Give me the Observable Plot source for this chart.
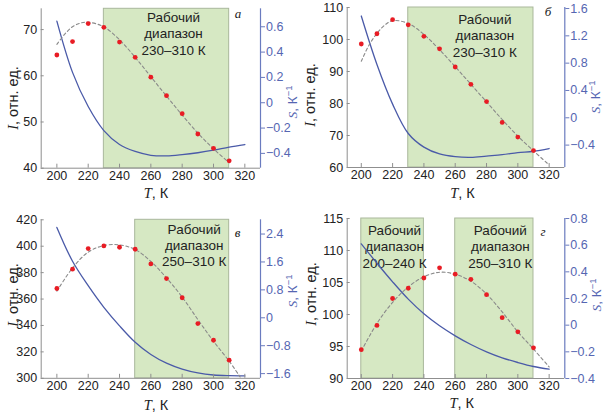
<!DOCTYPE html>
<html><head><meta charset="utf-8">
<script src="https://cdn.jsdelivr.net/npm/d3@7"></script>
<script src="https://cdn.jsdelivr.net/npm/@observablehq/plot@0.6"></script>
<style>
body{margin:0;background:#fff;}
#wrap{position:relative;width:605px;height:412px;overflow:hidden;font-family:"Liberation Sans",Arial,sans-serif;}
.panel{position:absolute;}
.panel svg{position:absolute;left:0;top:0;overflow:visible;}
.ttl{position:absolute;font-size:14.5px;color:#222;white-space:nowrap;line-height:1;}
.it{font-family:"Liberation Serif","DejaVu Serif",serif;font-style:italic;}
.rot{transform:translate(-50%,-50%) rotate(-90deg);}
.ctr{transform:translate(-50%,-50%);}
.blue{color:#5566b2;font-size:13.5px;}
sup{font-size:9.5px;vertical-align:5px;line-height:0;}
</style></head><body><div id="wrap"></div>
<script>
// ---------- data ----------
const T = [200, 210, 220, 230, 240, 250, 260, 270, 280, 290, 300, 310];
const curveT = [200, 210, 220, 230, 240, 250, 260, 270, 280, 290, 300, 310, 320];
const xTicks = [200, 220, 240, 260, 280, 300, 320];

// panel а
const aI = [64.5, 67.4, 71.3, 70.5, 67.3, 64.0, 59.7, 55.7, 51.8, 47.4, 44.3, 41.6];
const aFitT = [200, 205, 210, 215, 220, 230, 240, 250, 260, 270, 280, 290, 300, 310];
const aFit = [66.8, 69.0, 70.6, 71.4, 71.6, 70.6, 67.8, 64.0, 59.8, 55.6, 51.5, 47.6, 44.2, 41.2];
const aS = [0.645, 0.24, -0.03, -0.22, -0.33, -0.385, -0.415, -0.42, -0.41, -0.395, -0.375, -0.35, -0.33];
const aRanges = [[230, 310]];
const aRangeLabels = ["230–310 К"];
const aITicks = [40, 50, 60, 70];
const aSTicks = [-0.4, -0.2, 0, 0.2, 0.4, 0.6];

// panel б
const bI = [98.6, 101.8, 106.2, 104.6, 101.0, 97.1, 91.4, 86.0, 80.6, 74.1, 69.5, 65.3];
const bFitT = [200, 205, 210, 215, 220, 230, 240, 250, 260, 270, 280, 290, 300, 310, 320];
const bFit = [93.2, 98.3, 101.9, 104.5, 105.9, 105.0, 101.6, 96.8, 91.5, 86.0, 80.5, 75.0, 69.8, 65.2, 60.8];
const bS = [1.49, 0.78, 0.2, -0.23, -0.43, -0.53, -0.57, -0.58, -0.56, -0.54, -0.51, -0.49, -0.45];
const bRanges = [[230, 310]];
const bRangeLabels = ["230–310 К"];
const bITicks = [60, 70, 80, 90, 100, 110];
const bSTicks = [-0.4, 0, 0.4, 0.8, 1.2, 1.6];

// panel в
const cI = [368.0, 382.6, 398.2, 400.2, 399.2, 397.7, 386.6, 375.5, 361.0, 341.4, 328.8, 313.7];
const cFitT = [200, 210, 220, 230, 240, 250, 260, 270, 280, 290, 300, 310, 317];
const cFit = [366, 383.5, 395.5, 400.5, 401, 397.5, 388.5, 376, 361.5, 344.5, 328, 313, 301];
const cS = [2.59, 1.62, 0.92, 0.30, -0.23, -0.70, -1.05, -1.30, -1.47, -1.58, -1.64, -1.66, -1.665];
const cRanges = [[250, 310]];
const cRangeLabels = ["250–310 К"];
const cITicks = [300, 320, 340, 360, 380, 400, 420];
const cSTicks = [-1.6, -0.8, 0, 0.8, 1.6, 2.4];

// panel г
const dI = [94.5, 98.3, 102.5, 104.1, 105.7, 107.3, 106.3, 105.5, 103.1, 99.5, 97.3, 94.8];
const dFitT = [200, 210, 220, 230, 240, 250, 260, 270, 280, 290, 300, 310, 320];
const dFit = [94.3, 98.6, 101.9, 104.3, 105.9, 106.6, 106.3, 105.2, 103.2, 100.4, 97.3, 94.6, 91.8];
const dS = [0.61, 0.465, 0.325, 0.195, 0.085, -0.005, -0.08, -0.145, -0.20, -0.245, -0.28, -0.31, -0.33];
const dRanges = [[200, 240], [260, 310]];
const dRangeLabels = ["200–240 К", "250–310 К"];
const dITicks = [90, 95, 100, 105, 110, 115];
const dSTicks = [-0.4, -0.2, 0, 0.2, 0.4, 0.6, 0.8];

// ---------- styles ----------
const BLUE_LINE = "#4a5aa8", BLUE_AX = "#6a7bbf", BLUE_TXT = "#5566b2";
const GRAY_AX = "#8f8f8f", RED = "#e81c24", GREEN = "#d6e8c3", GREEN_EDGE = "#a9b79b";
const fmtS = v => { const r = Math.round(v * 10) / 10; return r === 0 ? "0" : d3.format(".1f")(r); };

function panel(cfg) {
  const wrap = document.getElementById("wrap");
  const div = document.createElement("div");
  div.className = "panel";
  Object.assign(div.style, {left: cfg.left + "px", top: cfg.top + "px", width: cfg.width + "px", height: cfg.height + "px"});
  const s2i = d3.scaleLinear().domain(cfg.sDom).range(cfg.iDom);
  const pts = T.map((t, i) => ({T: t, I: cfg.I[i]}));
  const fit = cfg.fitT.map((t, i) => ({T: t, I: cfg.fit[i]}));
  const sens = curveT.map((t, i) => ({T: t, S: cfg.S[i]}));
  const ranges = cfg.ranges.map(([lo, hi], i) => ({lo, hi, label: cfg.labels[i], dx: cfg.textDx[i]}));
  const svg = Plot.plot({
    width: cfg.width, height: cfg.height,
    marginLeft: cfg.m[0], marginRight: cfg.m[1], marginTop: cfg.m[2], marginBottom: cfg.m[3],
    x: {domain: cfg.xDom}, y: {domain: cfg.iDom},
    style: {fontFamily: "Liberation Sans, Arial, sans-serif", fontSize: "12.5px", color: "#222", background: "transparent", overflow: "visible"},
    marks: [
      Plot.rect(ranges, {x1: "lo", x2: "hi", fill: GREEN, stroke: GREEN_EDGE, strokeWidth: 1}),
      ...ranges.map(r => Plot.text([r], {
        x: d => (d.lo + d.hi) / 2, text: d => `Рабочий\nдиапазон\n${d.label}`,
        frameAnchor: "top", lineAnchor: "top", dy: cfg.textDy, dx: r.dx,
        fontSize: 13.5, lineHeight: 1.22, fill: "#222"
      })),
      Plot.text([cfg.letter], {frameAnchor: "top-right", dx: cfg.letterD[0], dy: cfg.letterD[1], lineAnchor: "middle",
        fontFamily: "Liberation Serif, serif", fontStyle: "italic", fontSize: 13, fill: "#222"}),
      Plot.line(sens, {x: "T", y: d => s2i(d.S), stroke: BLUE_LINE, strokeWidth: 1.3, curve: "catmull-rom"}),
      Plot.line(fit, {x: "T", y: "I", stroke: "#8a8a8a", strokeWidth: 1.1, strokeDasharray: "3,2.6", curve: "catmull-rom"}),
      Plot.dot(pts, {x: "T", y: "I", r: 2.4, fill: RED}),
      Plot.ruleX([cfg.xDom[0]], {stroke: GRAY_AX, strokeWidth: 1}),
      Plot.ruleY([cfg.iDom[0]], {stroke: GRAY_AX, strokeWidth: 1}),
      Plot.ruleX([cfg.xDom[1]], {stroke: BLUE_AX, strokeWidth: 1.2}),
      Plot.axisX(xTicks, {tickSize: -4, tickPadding: 7, stroke: GRAY_AX, fill: "#222", fontSize: 12.5, label: null}),
      Plot.axisY(cfg.iTicks, {anchor: "left", tickSize: -3, tickPadding: 7, stroke: GRAY_AX, fill: "#222", fontSize: 12.5, label: null}),
      Plot.axisY(cfg.sTicks.map(s => s2i(s)), {anchor: "right", tickSize: 4, tickPadding: 1.5, stroke: BLUE_AX, fill: BLUE_TXT,
        fontSize: 12.5, label: null, tickFormat: v => fmtS(s2i.invert(v))})
    ]
  });
  div.appendChild(svg);
  const add = (html, cls, pos) => {
    const e = document.createElement("div");
    e.className = "ttl " + cls;
    e.innerHTML = html;
    e.style.left = pos[0] + "px"; e.style.top = pos[1] + "px";
    div.appendChild(e);
  };
  add('<span class="it">T</span>, К', "ctr", cfg.xT);
  add('<span class="it">I</span>, отн. ед.', "rot", cfg.yT);
  add('<span class="it">S</span>, К<sup>−1</sup>', "rot blue", cfg.sT);
  wrap.appendChild(div);
}

panel({left: 0, top: 0, width: 302, height: 206, m: [40.7, 42, 8.3, 38.3],
  xDom: [190, 330], iDom: [40, 74.5], sDom: [-0.517, 0.742],
  I: aI, fitT: aFitT, fit: aFit, S: aS, ranges: aRanges, labels: aRangeLabels, iTicks: aITicks, sTicks: aSTicks,
  textDx: [7], textDy: 1.5, letter: "а", letterD: [-19.3, 4.7],
  xT: [156, 193], yT: [12.5, 98], sT: [293, 102]});

panel({left: 300, top: 0, width: 305, height: 206, m: [46.7, 40.7, 7, 39],
  xDom: [191, 330], iDom: [60, 110], sDom: [-0.728, 1.615],
  I: bI, fitT: bFitT, fit: bFit, S: bS, ranges: bRanges, labels: bRangeLabels, iTicks: bITicks, sTicks: bSTicks,
  textDx: [14], textDy: 4.5, letter: "б", letterD: [-13.6, 4.7],
  xT: [162.5, 193], yT: [10, 95], sT: [296, 97]});

panel({left: 0, top: 206, width: 302, height: 206, m: [40.7, 42, 13.3, 34.2],
  xDom: [190, 330], iDom: [300, 420], sDom: [-1.734, 2.808],
  I: cI, fitT: cFitT, fit: cFit, S: cS, ranges: cRanges, labels: cRangeLabels, iTicks: cITicks, sTicks: cSTicks,
  textDx: [12], textDy: 2, letter: "в", letterD: [-20, 12.7],
  xT: [156, 199], yT: [12.5, 89], sT: [293, 85]});

panel({left: 300, top: 206, width: 305, height: 206, m: [46.7, 40.7, 12, 34],
  xDom: [191, 330], iDom: [90, 115], sDom: [-0.4, 0.8],
  I: dI, fitT: dFitT, fit: dFit, S: dS, ranges: dRanges, labels: dRangeLabels, iTicks: dITicks, sTicks: dSTicks,
  textDx: [2, 6], textDy: 4.5, letter: "г", letterD: [-19.3, 13],
  xT: [161.7, 197.3], yT: [11, 88], sT: [296.5, 89]});
</script>
</body></html>
